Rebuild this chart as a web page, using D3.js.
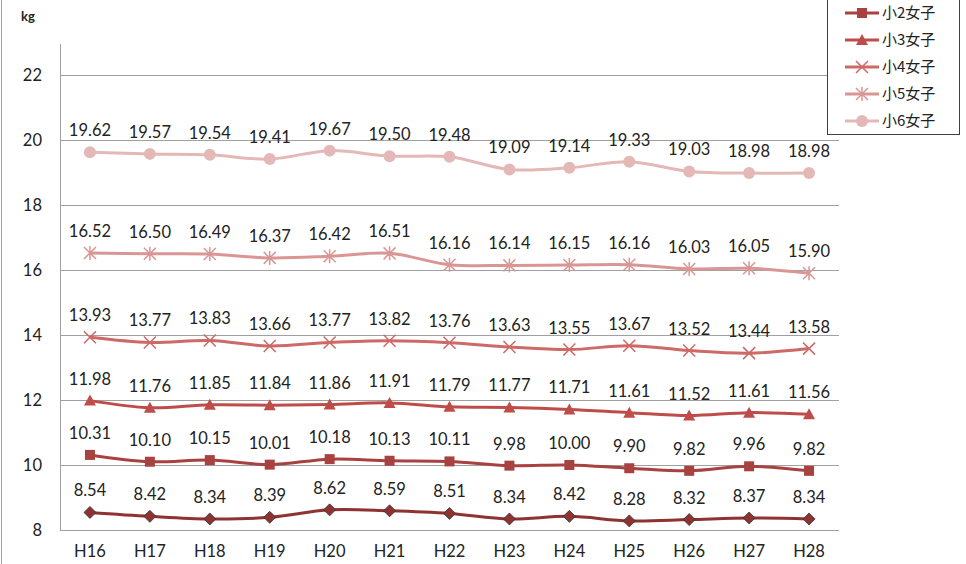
<!DOCTYPE html>
<html>
<head>
<meta charset="utf-8">
<script src="https://cdn.jsdelivr.net/npm/d3@7"></script>
<style>
body { margin: 0; background: #fff; }
svg { display: block; font-family: "Lato", "Noto Sans CJK JP", sans-serif; }
</style>
</head>
<body>
<svg id="chart" width="966" height="564"></svg>
<script>
// years (x categories)
var years = ["H16","H17","H18","H19","H20","H21","H22","H23","H24","H25","H26","H27","H28"];
var seriesNames = ["小1女子","小2女子","小3女子","小4女子","小5女子","小6女子"];
var yTicks = [8,10,12,14,16,18,20,22];

var g1 = [8.54,8.42,8.34,8.39,8.62,8.59,8.51,8.34,8.42,8.28,8.32,8.37,8.34];
var g2 = [10.31,10.10,10.15,10.01,10.18,10.13,10.11,9.98,10.00,9.90,9.82,9.96,9.82];
var g3 = [11.98,11.76,11.85,11.84,11.86,11.91,11.79,11.77,11.71,11.61,11.52,11.61,11.56];
var g4 = [13.93,13.77,13.83,13.66,13.77,13.82,13.76,13.63,13.55,13.67,13.52,13.44,13.58];
var g5 = [16.52,16.50,16.49,16.37,16.42,16.51,16.16,16.14,16.15,16.16,16.03,16.05,15.90];
var g6 = [19.62,19.57,19.54,19.41,19.67,19.50,19.48,19.09,19.14,19.33,19.03,18.98,18.98];

var colors = ["#8E3232","#A84240","#BE4D4A","#CD6966","#D99694","#E3B8B7"];
var markers = ["diamond","square","triangle","x","star","circle"];

var allSeries = [g1,g2,g3,g4,g5,g6];

var svg = d3.select("#chart");

var x = d3.scaleBand().domain(years).range([60, 839]);
var y = d3.scaleLinear().domain([8, 22.95]).range([530, 44]);

// outer frame edge
svg.append("line").attr("x1",1.5).attr("x2",1.5).attr("y1",0).attr("y2",564)
	.style("stroke","#a6a6a6").style("stroke-width",1);

// gridlines
svg.append("g").selectAll("line")
	.data(yTicks)
	.enter()
	.append("line")
	.attr("x1", 60)
	.attr("x2", 839)
	.attr("y1", d => Math.round(y(d)) + 0.5)
	.attr("y2", d => Math.round(y(d)) + 0.5)
	.style("stroke", "#a0a0a0")
	.style("stroke-width", 1);

// y axis line
svg.append("line").attr("x1",60.5).attr("x2",60.5).attr("y1",44).attr("y2",530)
	.style("stroke","#a0a0a0");

// y tick labels
svg.append("g").selectAll("text")
	.data(yTicks)
	.enter()
	.append("text")
	.attr("x", 42)
	.attr("y", d => y(d))
	.attr("dy", "0.35em")
	.attr("text-anchor", "end")
	.style("font-size", "16.5px")
	.style("fill", "#222")
	.text(d => d);

svg.append("text").attr("x", 21).attr("y", 21)
	.style("font-size", "13px").style("font-weight", "bold").style("fill", "#222")
	.text("kg");

// x labels
svg.append("g").selectAll("text")
	.data(years)
	.enter()
	.append("text")
	.attr("x", d => x(d) + x.bandwidth() / 2)
	.attr("y", 557)
	.attr("text-anchor", "middle")
	.style("font-size", "16.5px")
	.style("fill", "#222")
	.text(d => d);

function drawMarker(sel, type, color) {
	if (type === "diamond") {
		sel.append("path").attr("d", "M0,-6L6,0L0,6L-6,0Z")
			.style("fill", color).style("stroke", "#333").style("stroke-width", 0.8);
	} else if (type === "square") {
		sel.append("rect").attr("x", -5).attr("y", -5).attr("width", 10).attr("height", 10)
			.style("fill", color);
	} else if (type === "triangle") {
		sel.append("path").attr("d", "M0,-6L6,5L-6,5Z").style("fill", color);
	} else if (type === "x") {
		sel.append("path").attr("d", "M-6,-6L6,6M-6,6L6,-6")
			.style("stroke", color).style("stroke-width", 1.5).style("fill", "none");
	} else if (type === "star") {
		sel.append("path").attr("d", "M-6,-6L6,6M-6,6L6,-6M0,-7L0,7")
			.style("stroke", color).style("stroke-width", 1.5).style("fill", "none");
	} else if (type === "circle") {
		sel.append("circle").attr("r", 6).style("fill", color);
	}
}

var line = d3.line()
	.x((d, i) => x(years[i]) + x.bandwidth() / 2)
	.y(d => y(d))
	.curve(d3.curveCatmullRom.alpha(0.5));

allSeries.forEach(function(vals, si) {
	var g = svg.append("g");
	g.append("path")
		.attr("d", line(vals))
		.style("fill", "none")
		.style("stroke", colors[si])
		.style("stroke-width", 3);
	g.selectAll(".m")
		.data(vals)
		.enter()
		.append("g")
		.attr("transform", (d, i) => "translate(" + (x(years[i]) + x.bandwidth() / 2) + "," + y(d) + ")")
		.each(function() { drawMarker(d3.select(this), markers[si], colors[si]); });
	g.selectAll("text")
		.data(vals)
		.enter()
		.append("text")
		.attr("x", (d, i) => x(years[i]) + x.bandwidth() / 2)
		.attr("y", d => y(d) - 16)
		.attr("text-anchor", "middle")
		.style("font-size", "16.5px")
		.style("fill", "#222")
		.text(d => d.toFixed(2));
});

// legend: the box runs off the top edge; the first entry (小1女子) lies outside the picture
var lg = svg.append("g");
lg.append("rect").attr("x", 827.5).attr("y", -27.5).attr("width", 132).attr("height", 162)
	.style("fill", "#fff").style("stroke", "#404040").style("stroke-width", 1);
seriesNames.forEach(function(name, i) {
	if (i === 0) return;
	var cy = -14 + i * 27;
	var item = lg.append("g").attr("transform", "translate(0," + cy + ")");
	item.append("line").attr("x1", 845).attr("x2", 879).attr("y1", 0).attr("y2", 0)
		.style("stroke", colors[i]).style("stroke-width", 3);
	var m = item.append("g").attr("transform", "translate(862,0)");
	drawMarker(m, markers[i], colors[i]);
	item.append("text").attr("x", 882).attr("y", 0).attr("dy", "0.35em")
		.style("font-size", "15px").style("fill", "#222")
		.style("font-family", "'Noto Sans CJK JP', sans-serif")
		.text(name);
});
</script>
</body>
</html>
